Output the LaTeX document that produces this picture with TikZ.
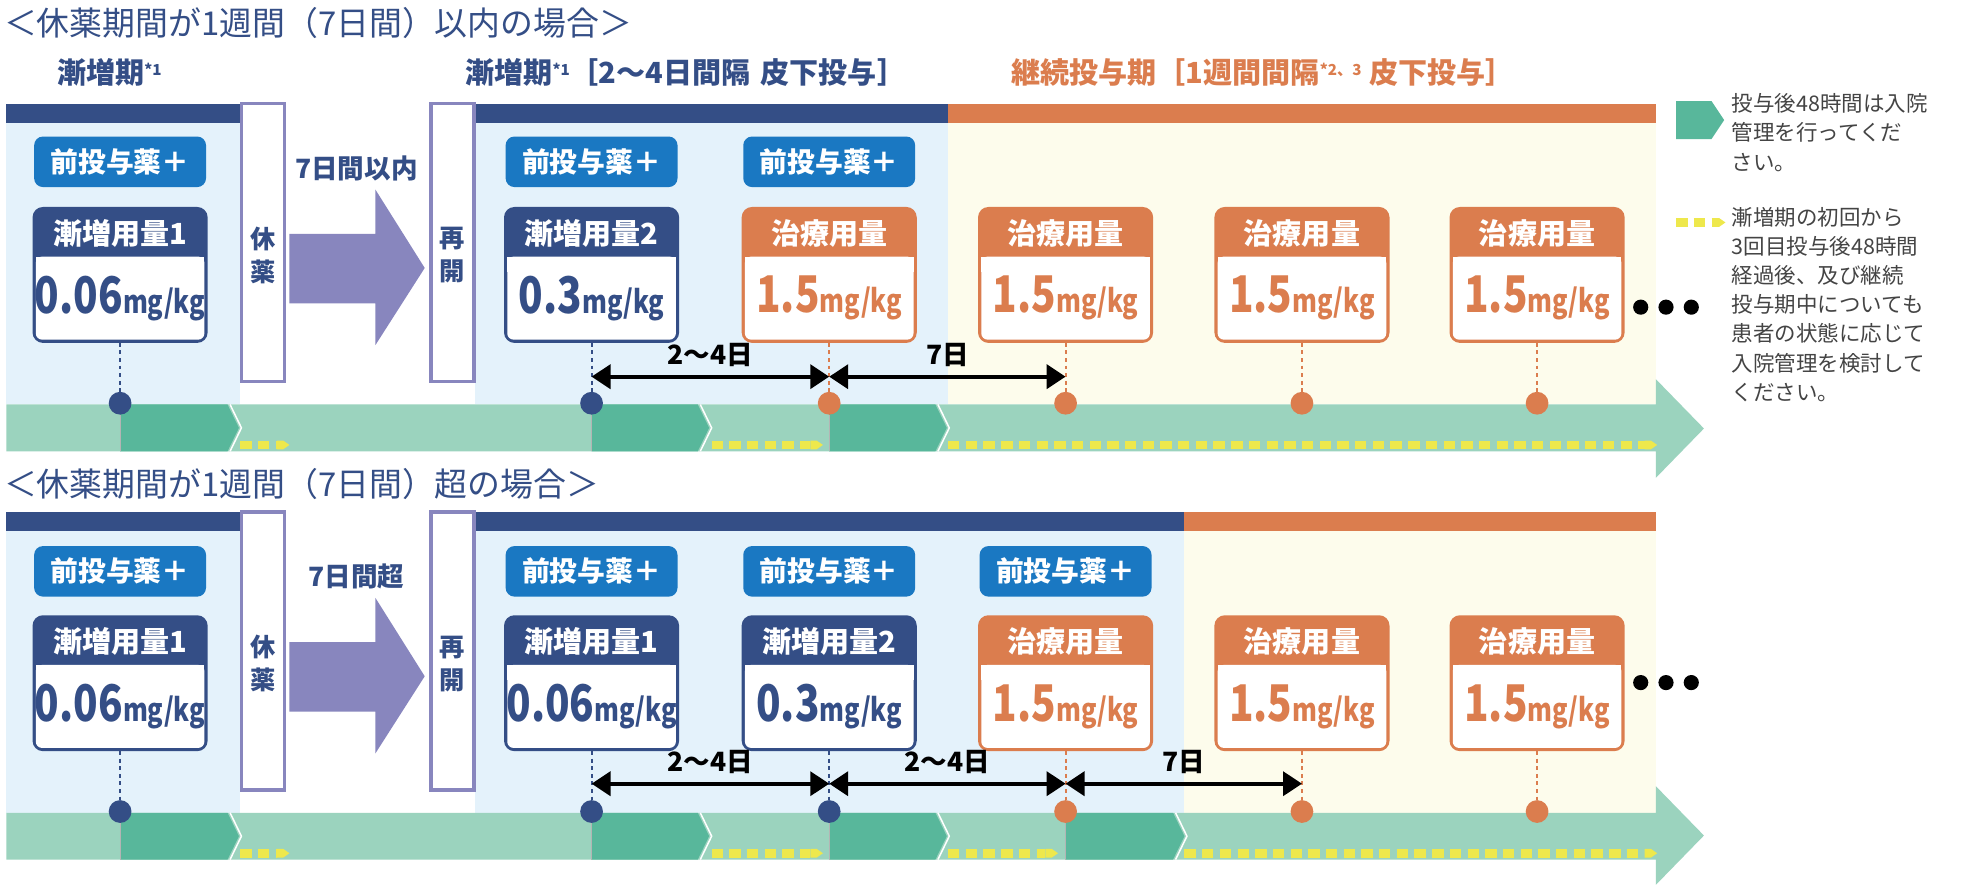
\documentclass[tikz,border=0pt]{standalone}
\usepackage{fontspec}
\setmainfont{Noto Sans CJK JP}
\usepackage{graphicx}
\usetikzlibrary{arrows.meta}
\definecolor{navy}{HTML}{344E86}
\definecolor{preblue}{HTML}{1A78C2}
\definecolor{orng}{HTML}{DB7D4E}
\definecolor{lblue}{HTML}{E4F2FB}
\definecolor{cream}{HTML}{FDFCEC}
\definecolor{tlight}{HTML}{9BD3BE}
\definecolor{tdark}{HTML}{58B79B}
\definecolor{yel}{HTML}{EEE84C}
\definecolor{purp}{HTML}{8886BE}
\definecolor{gtext}{HTML}{444444}
\tikzset{
  prebox/.style={fill=preblue,rounded corners=7pt,minimum width=136pt,minimum height=40pt,text=white,font=\bfseries\fontsize{22}{24}\selectfont,inner sep=0pt},
  dosebox/.style={line width=2.5pt,rounded corners=7pt,minimum width=136pt,minimum height=105pt,inner sep=0pt},
  hdr/.style={text=white,font=\bfseries\fontsize{23}{24}\selectfont},
  pausebox/.style={draw=purp,line width=2.5pt,fill=white,minimum width=34pt,minimum height=220pt,inner sep=0pt},
  dotnode/.style={circle,minimum size=18pt,inner sep=0pt},
  leader/.style={line width=1.6pt,dash pattern=on 3pt off 3pt},
  dim/.style={line width=3pt,{Triangle[length=15pt,width=19pt]}-{Triangle[length=15pt,width=19pt]}},
  dimlab/.style={font=\bfseries\fontsize{21}{22}\selectfont,text=black},
  ydash/.style={yel,line width=7pt,dash pattern=on 9pt off 5pt},
  sect/.style={font=\bfseries\fontsize{23}{25}\selectfont,anchor=west,inner sep=0pt},
  legend/.style={font=\fontsize{17}{23}\selectfont,text=gtext,anchor=north west,align=left,inner sep=0pt},
  ttl/.style={font=\fontsize{26}{28}\selectfont,text=navy,anchor=west,inner sep=0pt},
  pausetxt/.style={text=navy,font=\bfseries\fontsize{20}{26}\selectfont,align=center},
  arrtxt/.style={text=navy,font=\bfseries\fontsize{21}{22}\selectfont},
}
\newcommand{\mydose}[6]{%
  \node[dosebox,draw=#4,fill=#4] (#1) at (#2,#3+52.5) {};
  \fill[white,rounded corners=5pt] (#2-66.7,#3+38) rectangle (#2+66.7,#3+103.7);
  \fill[white] (#2-66.7,#3+38) rectangle (#2+66.7,#3+50);
  \node[hdr] (#1h) at (#2,#3+19.5) {#5};
  \node[text=#4,inner sep=0pt] (#1v) at (#2,#3+71) {\bfseries\scalebox{0.8}[1]{{\fontsize{40}{40}\selectfont #6}{\fontsize{25}{25}\selectfont mg/kg}}};
}
\newcommand{\mychev}[3]{%
  \fill[tdark] (#1,#3) -- (#2,#3) -- (#2+9,#3+18.5) -- (#2,#3+37) -- (#1,#3+37) -- cycle;
  \draw[white,line width=1.2pt] (#2+2,#3) -- (#2+11,#3+18.5) -- (#2+2,#3+37);
}
\newcommand{\myyel}[3]{%
  \draw[ydash] (#1,#3) -- (#2-9,#3);
  \fill[yel] (#2-9,#3-3.5) -- (#2-4,#3-3.5) -- (#2+1,#3) -- (#2-4,#3+3.5) -- (#2-9,#3+3.5) -- cycle;
}
\begin{document}
\begin{tikzpicture}[x=1pt,y=-1pt]
\useasboundingbox (0,0) rectangle (1568,704);
\fill[white] (0,0) rectangle (1568,704);

% ================= TOP =================
\node[ttl] (t0) at (3,18) {＜休薬期間が1週間（7日間）以内の場合＞};
\node[sect,text=navy] (ts1) at (45,57) {漸増期\raisebox{6pt}{\fontsize{12}{12}\selectfont *1}};
\node[sect,text=navy] (ts2) at (368,57) {漸増期\raisebox{6pt}{\fontsize{12}{12}\selectfont *1}［2～4日間隔\hspace{8pt}皮下投与］};
\node[sect,text=orng] (ts3) at (800,57) {継続投与期［1週間間隔\raisebox{6pt}{\fontsize{12}{12}\selectfont *2、3}\hspace{6pt}皮下投与］};

\fill[lblue] (5,97) rectangle (190,320);
\fill[lblue] (376,97) rectangle (750,320);
\fill[cream] (750,97) rectangle (1310,320);
\fill[navy] (5,82) rectangle (190,97);
\fill[navy] (376,82) rectangle (750,97);
\fill[orng] (750,82) rectangle (1310,97);

\node[pausebox] (tp1) at (208,192) {};
\node[pausetxt] (tp1t) at (208,202) {休\\薬};
\node[pausebox] (tp2) at (358,192) {};
\node[pausetxt] (tp2t) at (358,202) {再\\開};
\fill[purp] (229,185) -- (297,185) -- (297,150) -- (336,212) -- (297,273) -- (297,240) -- (229,240) -- cycle;
\node[arrtxt] (tar) at (282,133) {7日間以内};

\node[prebox] (tq1) at (95,128) {前投与薬＋};
\node[prebox] (tq2) at (468,128) {前投与薬＋};
\node[prebox] (tq3) at (656,128) {前投与薬＋};
\mydose{td1}{95}{165}{navy}{漸増用量1}{0.06}
\mydose{td2}{468}{165}{navy}{漸増用量2}{0.3}
\mydose{td3}{656}{165}{orng}{治療用量}{1.5}
\mydose{td4}{843}{165}{orng}{治療用量}{1.5}
\mydose{td5}{1030}{165}{orng}{治療用量}{1.5}
\mydose{td6}{1216}{165}{orng}{治療用量}{1.5}

\fill[tlight] (5,320) -- (1310,320) -- (1310,300) -- (1348,339) -- (1310,378) -- (1310,357) -- (5,357) -- cycle;
\mychev{95}{180}{320}
\mychev{468}{552}{320}
\mychev{656}{740}{320}
\myyel{190}{228}{352}
\myyel{563}{650}{352}
\myyel{750}{1310}{352}

\node[dotnode,fill=navy] (tc1) at (95,319) {};
\node[dotnode,fill=navy] (tc2) at (468,319) {};
\node[dotnode,fill=orng] (tc3) at (656,319) {};
\node[dotnode,fill=orng] (tc4) at (843,319) {};
\node[dotnode,fill=orng] (tc5) at (1030,319) {};
\node[dotnode,fill=orng] (tc6) at (1216,319) {};
\draw[leader,navy] (td1.south) -- (tc1);
\draw[leader,navy] (td2.south) -- (tc2);
\draw[leader,orng] (td3.south) -- (tc3);
\draw[leader,orng] (td4.south) -- (tc4);
\draw[leader,orng] (td5.south) -- (tc5);
\draw[leader,orng] (td6.south) -- (tc6);
\draw[gtext!40,line width=0.8pt] (tc1) -- (95,357) (tc2) -- (468,357) (tc3) -- (656,357);

\draw[dim] (tc2 |- 0,298) -- (tc3 |- 0,298) node[midway,above=3pt,dimlab] (tl1) {2～4日};
\draw[dim] (tc3 |- 0,298) -- (tc4 |- 0,298) node[midway,above=3pt,dimlab] (tl2) {7日};

\foreach \i/\x in {1/1298,2/1318,3/1338} \node[circle,fill=black,minimum size=12pt,inner sep=0pt] (te\i) at (\x,243) {};

% legend
\fill[tdark] (1326,80) -- (1354,80) -- (1364,95) -- (1354,110) -- (1326,110) -- cycle;
\node[legend] (lg1) at (1370,74) {投与後48時間は入院\\管理を行ってくだ\\さい。};
\myyel{1326}{1364}{176}
\node[legend] (lg2) at (1370,164) {漸増期の初回から\\3回目投与後48時間\\経過後、及び継続\\投与期中についても\\患者の状態に応じて\\入院管理を検討して\\ください。};

% ================= BOTTOM =================
\node[ttl] (b0) at (3,383) {＜休薬期間が1週間（7日間）超の場合＞};
\fill[lblue] (5,420) rectangle (190,643);
\fill[lblue] (376,420) rectangle (937,643);
\fill[cream] (937,420) rectangle (1310,643);
\fill[navy] (5,405) rectangle (190,420);
\fill[navy] (376,405) rectangle (937,420);
\fill[orng] (937,405) rectangle (1310,420);

\node[pausebox] (bp1) at (208,515) {};
\node[pausetxt] (bp1t) at (208,525) {休\\薬};
\node[pausebox] (bp2) at (358,515) {};
\node[pausetxt] (bp2t) at (358,525) {再\\開};
\fill[purp] (229,508) -- (297,508) -- (297,473) -- (336,535) -- (297,596) -- (297,563) -- (229,563) -- cycle;
\node[arrtxt] (bar) at (282,456) {7日間超};

\node[prebox] (bq1) at (95,452) {前投与薬＋};
\node[prebox] (bq2) at (468,452) {前投与薬＋};
\node[prebox] (bq3) at (656,452) {前投与薬＋};
\node[prebox] (bq4) at (843,452) {前投与薬＋};
\mydose{bd1}{95}{488}{navy}{漸増用量1}{0.06}
\mydose{bd2}{468}{488}{navy}{漸増用量1}{0.06}
\mydose{bd3}{656}{488}{navy}{漸増用量2}{0.3}
\mydose{bd4}{843}{488}{orng}{治療用量}{1.5}
\mydose{bd5}{1030}{488}{orng}{治療用量}{1.5}
\mydose{bd6}{1216}{488}{orng}{治療用量}{1.5}

\fill[tlight] (5,643) -- (1310,643) -- (1310,622) -- (1348,661) -- (1310,700) -- (1310,680) -- (5,680) -- cycle;
\mychev{95}{180}{643}
\mychev{468}{552}{643}
\mychev{656}{740}{643}
\mychev{843}{928}{643}
\myyel{190}{228}{675}
\myyel{563}{650}{675}
\myyel{750}{836}{675}
\myyel{937}{1310}{675}

\node[dotnode,fill=navy] (bc1) at (95,642) {};
\node[dotnode,fill=navy] (bc2) at (468,642) {};
\node[dotnode,fill=navy] (bc3) at (656,642) {};
\node[dotnode,fill=orng] (bc4) at (843,642) {};
\node[dotnode,fill=orng] (bc5) at (1030,642) {};
\node[dotnode,fill=orng] (bc6) at (1216,642) {};
\draw[leader,navy] (bd1.south) -- (bc1);
\draw[leader,navy] (bd2.south) -- (bc2);
\draw[leader,navy] (bd3.south) -- (bc3);
\draw[leader,orng] (bd4.south) -- (bc4);
\draw[leader,orng] (bd5.south) -- (bc5);
\draw[leader,orng] (bd6.south) -- (bc6);
\draw[gtext!40,line width=0.8pt] (bc1) -- (95,680) (bc2) -- (468,680) (bc3) -- (656,680) (bc4) -- (843,680);

\draw[dim] (bc2 |- 0,620) -- (bc3 |- 0,620) node[midway,above=3pt,dimlab] (bl1) {2～4日};
\draw[dim] (bc3 |- 0,620) -- (bc4 |- 0,620) node[midway,above=3pt,dimlab] (bl2) {2～4日};
\draw[dim] (bc4 |- 0,620) -- (bc5 |- 0,620) node[midway,above=3pt,dimlab] (bl3) {7日};

\foreach \i/\x in {1/1298,2/1318,3/1338} \node[circle,fill=black,minimum size=12pt,inner sep=0pt] (be\i) at (\x,540) {};
\end{tikzpicture}
\end{document}
